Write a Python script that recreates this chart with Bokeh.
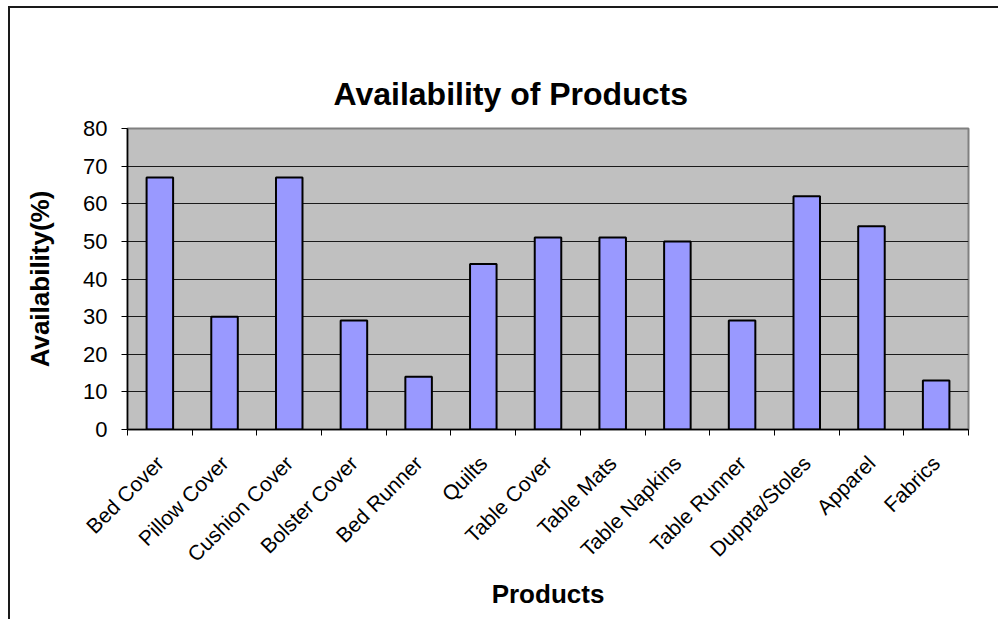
from bokeh.plotting import figure
from bokeh.models import FixedTicker, Range1d, Title
from bokeh.embed import file_html
from bokeh.resources import INLINE

title_text = "Availability of Products"
categories = ["Bed Cover", "Pillow Cover", "Cushion Cover", "Bolster Cover", "Bed Runner",
              "Quilts", "Table Cover", "Table Mats", "Table Napkins", "Table Runner",
              "Duppta/Stoles", "Apparel", "Fabrics"]
values = [67, 30, 67, 29, 14, 44, 51, 51, 50, 29, 62, 54, 13]
y_ticks = [0, 10, 20, 30, 40, 50, 60, 70, 80]

n = len(categories)
xs = [i + 0.5 for i in range(n)]

FONT = "Liberation Sans"

p = figure(width=990, height=613, output_backend="svg", toolbar_location=None,
           x_range=Range1d(0, n), y_range=Range1d(0, 80),
           min_border_left=117, min_border_right=32, min_border_top=120, min_border_bottom=192)
p.title = None
p.styles = {"border-left": "2px solid #1a1a1a", "border-top": "2px solid #1a1a1a",
            "margin-left": "8px", "margin-top": "6px"}

title = Title(text=title_text, align="left", vertical_align="top", offset=206, standoff=30,
              text_font=FONT, text_font_size="32px", text_font_style="bold", text_color="black")
p.add_layout(title, "above")

# invisible spacer panel between the title and the plot area
spacer = Title(text=" ", standoff=40, text_font_size="1px", text_alpha=0)
p.add_layout(spacer, "above")

p.background_fill_color = "#C0C0C0"
p.border_fill_color = "white"
p.outline_line_color = "#808080"
p.outline_line_width = 2

p.vbar(x=xs, top=values, width=0.41, fill_color="#9999FF", line_color="black", line_width=2)

# x axis (bottom)
xaxis = p.below[0]
xaxis.ticker = FixedTicker(ticks=xs, minor_ticks=list(range(n + 1)))
xaxis.major_label_overrides = {x: c for x, c in zip(xs, categories)}
xaxis.major_tick_line_color = None
xaxis.minor_tick_line_color = "black"
xaxis.minor_tick_out = 6
xaxis.minor_tick_in = 0
xaxis.major_label_orientation = 0.785398
xaxis.major_label_text_font = FONT
xaxis.major_label_text_font_size = "21px"
xaxis.major_label_text_color = "black"
xaxis.major_label_standoff = 24
xaxis.axis_label = "Products"
xaxis.axis_label_text_font = FONT
xaxis.axis_label_text_font_size = "26px"
xaxis.axis_label_text_font_style = "bold"
xaxis.axis_label_text_color = "black"
xaxis.axis_label_standoff = 2
xaxis.axis_line_color = "black"
xaxis.axis_line_width = 1.5

# y axis
yaxis = p.left[0]
yaxis.ticker = FixedTicker(ticks=y_ticks)
yaxis.major_tick_out = 6
yaxis.major_tick_in = 0
yaxis.minor_tick_line_color = None
yaxis.major_label_text_font = FONT
yaxis.major_label_text_font_size = "22px"
yaxis.major_label_text_color = "black"
yaxis.major_label_standoff = 14
yaxis.axis_label = "Availability(%)"
yaxis.axis_label_text_font = FONT
yaxis.axis_label_text_font_size = "26px"
yaxis.axis_label_text_font_style = "bold"
yaxis.axis_label_text_color = "black"
yaxis.axis_label_standoff = 25
yaxis.axis_line_color = "black"
yaxis.axis_line_width = 1.5

p.xgrid.grid_line_color = None
p.ygrid.ticker = FixedTicker(ticks=y_ticks)
p.ygrid.grid_line_color = "#1a1a1a"
p.ygrid.grid_line_width = 1

open("out.html", "w").write(file_html(p, INLINE))
